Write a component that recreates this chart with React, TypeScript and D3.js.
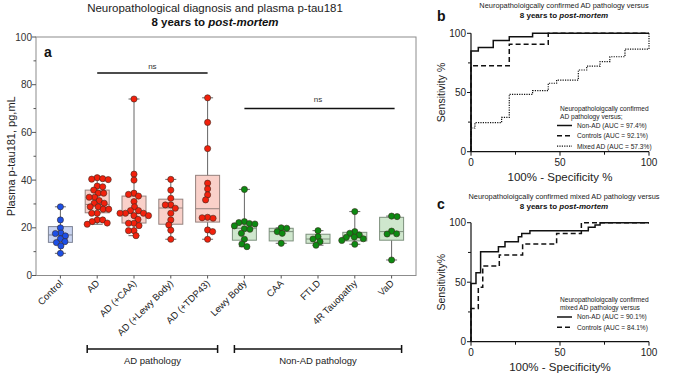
import React from "react";
import * as d3 from "d3";

// panel a data
const categories = ["Control", "AD", "AD (+CAA)", "AD (+Lewy Body)", "AD (+TDP43)", "Lewy Body", "CAA", "FTLD", "4R Tauopathy", "VaD"];
const groupKind = ["control", "ad", "ad", "ad", "ad", "nonad", "nonad", "nonad", "nonad", "nonad"];

const controlValues = [28.8, 23.3, 20.0, 17.8, 17.6, 16.6, 15.4, 14.2, 13.8, 12.4, 9.3];
const adValues = [41, 40.6, 40.4, 40.2, 37.5, 37.2, 35.8, 34.5, 34.5, 32.8, 32.8, 31.4, 30.3, 30.3, 28.8, 28.8, 27.8, 27.8, 26.1, 26.1, 23.3, 23.3, 22.6, 22.0, 21.5];
const adCaaValues = [74, 42.5, 40, 34.5, 34, 33.3, 31, 28.8, 27.2, 27.2, 26.1, 26.1, 26.1, 25.1, 25.1, 23.5, 21.9, 21.9, 20.9, 18.8, 18.8, 16.7];
const adLewyValues = [40.3, 35.8, 32.4, 29.6, 29.6, 28.2, 26.1, 23.3, 21.2, 19, 15.2];
const adTdpValues = [74.5, 64.2, 53.2, 38.7, 36.3, 33.8, 31.7, 24.4, 24.2, 24.0, 19.1, 18.4, 15.2];
const lewyValues = [36.1, 22.6, 22.2, 21.8, 21.6, 20.8, 19.6, 19.4, 17.7, 15.2, 13.2, 12.1];
const caaValues = [20.0, 19.8, 18.4, 17.7, 13.5];
const ftldValues = [18.8, 16.3, 15.3, 14.2, 12.7];
const tauValues = [26.8, 18.4, 17.7, 17.0, 16.1, 16.0, 15.4, 14.7, 13.1];
const vadValues = [24.9, 24.7, 18.6, 17.5, 17.4, 6.5];
const pointValues = [controlValues, adValues, adCaaValues, adLewyValues, adTdpValues, lewyValues, caaValues, ftldValues, tauValues, vadValues];

const boxQ1 = [13.9, 26.3, 22.0, 21.5, 22.4, 14.8, 14.5, 13.5, 14.5, 14.8];
const boxMedian = [17.0, 29.8, 26.0, 28.3, 28.0, 19.8, 18.4, 15.3, 16.3, 18.4];
const boxQ3 = [20.5, 35.8, 33.3, 32.0, 42.0, 21.9, 19.8, 17.3, 18.1, 24.4];

const yTicksA = [0, 20, 40, 60, 80, 100];
const yMinorA = [10, 30, 50, 70, 90];

// ROC curves (x = 100% - specificity, y = sensitivity), corner points
const bNonAdFpr = [0, 0, 4.1, 12.5, 21.5, 34.6, 100];
const bNonAdTpr = [0, 85, 88, 94, 97, 100, 100];
const bControlsFpr = [0, 0, 21.5, 43.4, 100];
const bControlsTpr = [0, 72.6, 90.7, 100, 100];
const bMixedFpr = [0, 0, 2.2, 17.2, 21.5, 34.6, 43.4, 48.1, 60.3, 65, 72.5, 78, 86.5, 100, 100];
const bMixedTpr = [0, 20, 24.5, 29, 48.5, 51.5, 57.8, 60.5, 69, 72.3, 76, 80.2, 86.7, 86.7, 100];

const cNonAdFpr = [0, 0, 2.8, 5.4, 15.4, 19.1, 26.6, 28.5, 33.1, 65.9, 69.7, 72.5, 100];
const cNonAdTpr = [0, 49, 58, 75.6, 79.8, 84, 88.2, 91, 93.3, 96.1, 98, 100, 100];
const cControlsFpr = [0, 0, 4.1, 6.6, 15.9, 29, 48.1, 62, 100];
const cControlsTpr = [0, 28, 45.7, 63.6, 72.9, 82.1, 91, 100, 100];

const rocTicks = [0, 25, 50, 75, 100];
const rocLabels = [0, 50, 100];

const FONT = "Liberation Sans, Arial, Helvetica, sans-serif";
const pointFill: Record<string, string> = { control: "#1c4fe6", ad: "#f2200c", nonad: "#0d8a12" };
const boxFill: Record<string, string> = { control: "#c9d4f1", ad: "#f9d0c9", nonad: "#cfe7cd" };
const boxStroke: Record<string, string> = { control: "#7c8294", ad: "#94817d", nonad: "#7d907d" };

function swarm(values: number[], cy: (v: number) => number, r: number) {
  const order = values.map((_, i) => i).sort((a, b) => values[b] - values[a]);
  const placed: { x: number; y: number }[] = [];
  const out: { x: number; y: number }[] = new Array(values.length);
  const gap = 1.7 * r;
  order.forEach((i, k) => {
    const py = cy(values[i]);
    let off = 0;
    for (let s = 0; s < 200; s++) {
      const m = Math.ceil(s / 2) * 0.5;
      const cand = s === 0 ? 0 : (s % 2 === (k % 2) ? m : -m);
      const hit = placed.some((p) => Math.hypot(p.x - cand, p.y - py) < gap);
      if (!hit) { off = cand; break; }
    }
    placed.push({ x: off, y: py });
    out[i] = { x: off, y: py };
  });
  return out;
}

function PanelA() {
  const left = 36, right = 416, top = 37, bottom = 275.5;
  const y = d3.scaleLinear().domain([0, 100]).range([bottom, top]);
  const x = d3.scaleBand().domain(categories).range([42, 410]);
  const cx = (c: string) => (x(c) as number) + x.bandwidth() / 2;
  const bw = 24, r = 3.1;
  const line = "#666";

  return (
    <g fontFamily={FONT}>
      <text x={215} y={12} textAnchor="middle" fontSize={11.5} fill="#222">Neuropathological diagnosis and plasma p-tau181</text>
      <text x={215} y={26} textAnchor="middle" fontSize={11.5} fontWeight="bold" fill="#111">
        <tspan>8 years to </tspan><tspan fontStyle="italic">post-mortem</tspan>
      </text>
      <rect x={left} y={top} width={right - left} height={bottom - top} fill="none" stroke="#8c8c8c" strokeWidth={1} />
      {yTicksA.map((t) => (
        <g key={t}>
          <line x1={left - 4} x2={left} y1={y(t)} y2={y(t)} stroke="#555" />
          <text x={left - 4} y={y(t) + 3.5} textAnchor="end" fontSize={10} fill="#333">{t}</text>
        </g>
      ))}
      {yMinorA.map((t) => (
        <line key={t} x1={left - 2.5} x2={left} y1={y(t)} y2={y(t)} stroke="#555" />
      ))}
      <text transform={`translate(15,${(top + bottom) / 2}) rotate(-90)`} textAnchor="middle" fontSize={11} fill="#222">Plasma p-tau181, pg,mL</text>
      <text x={44} y={57} fontSize={14} fontWeight="bold" fill="#111">a</text>

      {categories.map((c, i) => {
        const kind = groupKind[i];
        const vals = pointValues[i];
        const [lo, hi] = d3.extent(vals) as [number, number];
        const xc = cx(c);
        const pts = swarm(vals, y, r);
        return (
          <g key={c}>
            <line x1={xc} x2={xc} y1={y(hi)} y2={y(lo)} stroke={line} strokeWidth={1} />
            <line x1={xc - 5.5} x2={xc + 5.5} y1={y(hi)} y2={y(hi)} stroke={line} strokeWidth={1} />
            <line x1={xc - 5.5} x2={xc + 5.5} y1={y(lo)} y2={y(lo)} stroke={line} strokeWidth={1} />
            <rect x={xc - bw / 2} y={y(boxQ3[i])} width={bw} height={y(boxQ1[i]) - y(boxQ3[i])} fill={boxFill[kind]} stroke={boxStroke[kind]} strokeWidth={1} />
            <line x1={xc - bw / 2} x2={xc + bw / 2} y1={y(boxMedian[i])} y2={y(boxMedian[i])} stroke={boxStroke[kind]} strokeWidth={1} />
            {pts.map((p, j) => (
              <circle key={j} cx={xc + p.x} cy={p.y} r={r} fill={pointFill[kind]} stroke="#3a2a20" strokeWidth={0.6} />
            ))}
            <line x1={xc} x2={xc} y1={bottom} y2={bottom + 3} stroke="#555" />
            <text transform={`translate(${xc + 3},${bottom + 8.5}) rotate(-45)`} textAnchor="end" fontSize={9.5} fill="#222">{c}</text>
          </g>
        );
      })}

      {/* significance bars */}
      <line x1={cx(categories[1])} x2={cx(categories[4])} y1={73} y2={73} stroke="#111" strokeWidth={1.5} />
      <text x={(cx(categories[1]) + cx(categories[4])) / 2} y={69} textAnchor="middle" fontSize={8} fill="#333">ns</text>
      <line x1={cx(categories[5])} x2={cx(categories[9]) + 3} y1={108.5} y2={108.5} stroke="#111" strokeWidth={1.5} />
      <text x={(cx(categories[5]) + cx(categories[9])) / 2} y={102} textAnchor="middle" fontSize={8} fill="#333">ns</text>

      {/* group brackets */}
      {[[1, 4, "AD pathology"], [5, 9, "Non-AD pathology"]].map(([a, b, label]) => {
        const x1 = cx(categories[a as number]) - 10, x2 = cx(categories[b as number]) + 10, yy = 349;
        return (
          <g key={label as string}>
            <line x1={x1} x2={x2} y1={yy} y2={yy} stroke="#111" strokeWidth={1.5} />
            <line x1={x1} x2={x1} y1={yy - 4} y2={yy + 4} stroke="#111" strokeWidth={1.5} />
            <line x1={x2} x2={x2} y1={yy - 4} y2={yy + 4} stroke="#111" strokeWidth={1.5} />
            <text x={(x1 + x2) / 2} y={364} textAnchor="middle" fontSize={9.5} fill="#222">{label}</text>
          </g>
        );
      })}
    </g>
  );
}

type Curve = { fpr: number[]; tpr: number[]; dash: string; width: number; label: string };

function RocPanel(props: {
  letter: string; letterY: number; title1: string; titleY: number; top: number; bottom: number;
  yTitle: string; xTitle: string; legendHead: string[]; legendY: number; curves: Curve[];
}) {
  const left = 471, right = 649;
  const x = d3.scaleLinear().domain([0, 100]).range([left, right]);
  const y = d3.scaleLinear().domain([0, 100]).range([props.bottom, props.top]);
  const lineGen = d3.line<[number, number]>().x((d) => x(d[0])).y((d) => y(d[1])).curve(d3.curveStepAfter);
  return (
    <g fontFamily={FONT}>
      <text x={437} y={props.letterY} fontSize={14} fontWeight="bold" fill="#111">{props.letter}</text>
      <text x={564} y={props.titleY} textAnchor="middle" fontSize={7.4} fill="#222">{props.title1}</text>
      <text x={564} y={props.titleY + 9.5} textAnchor="middle" fontSize={8} fontWeight="bold" fill="#111">
        <tspan>8 years to </tspan><tspan fontStyle="italic">post-mortem</tspan>
      </text>
      <line x1={left} x2={left} y1={props.top} y2={props.bottom} stroke="#111" strokeWidth={1.2} />
      <line x1={left} x2={right} y1={props.bottom} y2={props.bottom} stroke="#111" strokeWidth={1.2} />
      {rocTicks.map((t) => {
        const len = rocLabels.includes(t) ? 4 : 3;
        return (
          <g key={t}>
            <line x1={left - len} x2={left} y1={y(t)} y2={y(t)} stroke="#111" />
            <line x1={x(t)} x2={x(t)} y1={props.bottom} y2={props.bottom + len} stroke="#111" />
          </g>
        );
      })}
      {rocLabels.map((t) => (
        <g key={t}>
          <text x={left - 5} y={y(t) + 3.5} textAnchor="end" fontSize={10} fill="#222">{t}</text>
          <text x={x(t)} y={props.bottom + 14} textAnchor="middle" fontSize={10} fill="#222">{t}</text>
        </g>
      ))}
      <text transform={`translate(445,${(props.top + props.bottom) / 2}) rotate(-90)`} textAnchor="middle" fontSize={10.5} fill="#222">{props.yTitle}</text>
      <text x={560} y={props.bottom + 29} textAnchor="middle" fontSize={11.5} fill="#222">{props.xTitle}</text>
      {props.curves.map((c) => (
        <path key={c.label} d={lineGen(c.fpr.map((f, i) => [f, c.tpr[i]] as [number, number])) || ""} fill="none" stroke="#111" strokeWidth={c.width} strokeDasharray={c.dash} />
      ))}
      {props.legendHead.map((h, i) => (
        <text key={h} x={560} y={props.legendY + i * 8} fontSize={6.6} fill="#222">{h}</text>
      ))}
      {props.curves.map((c, i) => {
        const ly = props.legendY + 15 + i * 10.3;
        return (
          <g key={c.label}>
            <line x1={557} x2={572} y1={ly} y2={ly} stroke="#111" strokeWidth={c.width} strokeDasharray={c.dash} />
            <text x={577} y={ly + 2.4} fontSize={6.6} fill="#222">{c.label}</text>
          </g>
        );
      })}
    </g>
  );
}

export default function App() {
  return (
    <svg width={676} height={374} style={{ position: "absolute", left: 0, top: 0, background: "#fff" }}>
      <PanelA />
      <RocPanel
        letter="b" letterY={21} title1="Neuropatholoigcally confirmed AD pathology versus" titleY={8}
        top={33.3} bottom={151.7} yTitle="Sensitivity %" xTitle="100% - Specificity %"
        legendHead={["Neuropatholoigcally confirmed", "AD pathology versus;"]} legendY={110.5}
        curves={[
          { fpr: bNonAdFpr, tpr: bNonAdTpr, dash: "", width: 1.5, label: "Non-AD (AUC = 97.4%)" },
          { fpr: bControlsFpr, tpr: bControlsTpr, dash: "5,3", width: 1.5, label: "Controls (AUC = 92.1%)" },
          { fpr: bMixedFpr, tpr: bMixedTpr, dash: "1.2,1.2", width: 1.2, label: "Mixed AD (AUC = 57.3%)" },
        ]}
      />
      <RocPanel
        letter="c" letterY={209} title1="Neuropatholoigcally confirmed mixed AD pathology versus" titleY={199}
        top={222.7} bottom={341.7} yTitle="Sensitivity%" xTitle="100% - Specificity%"
        legendHead={["Neuropatholoigcally confirmed", "mixed AD pathology versus"]} legendY={302}
        curves={[
          { fpr: cNonAdFpr, tpr: cNonAdTpr, dash: "", width: 1.5, label: "Non-AD (AUC = 90.1%)" },
          { fpr: cControlsFpr, tpr: cControlsTpr, dash: "5,3", width: 1.5, label: "Controls (AUC = 84.1%)" },
        ]}
      />
    </svg>
  );
}
